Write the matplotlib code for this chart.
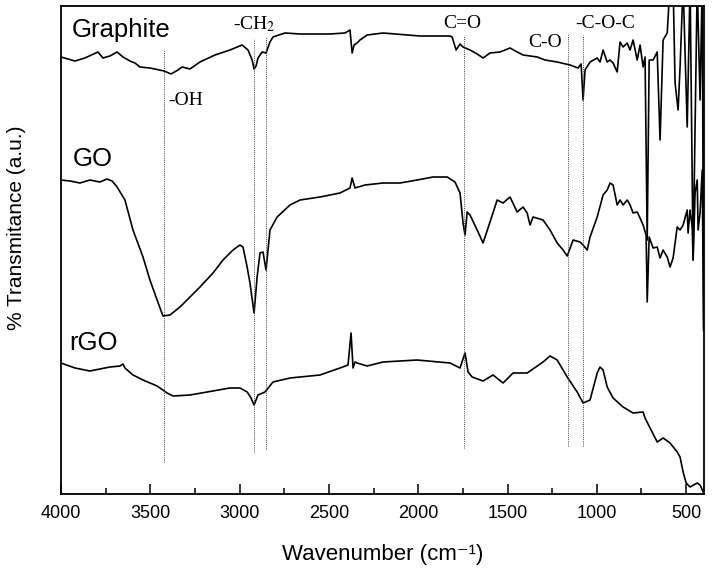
import matplotlib
matplotlib.use("Agg")
import matplotlib.pyplot as plt
from matplotlib.ticker import MultipleLocator

plt.rcParams['font.family'] = ['Liberation Sans', 'DejaVu Sans']
plt.rcParams['mathtext.fontset'] = 'custom'
plt.rcParams['mathtext.rm'] = 'Liberation Sans'
plt.rcParams['mathtext.it'] = 'Liberation Sans:italic'
plt.rcParams['mathtext.bf'] = 'Liberation Sans:bold'

# ---------------- data (wavenumber cm^-1, transmittance a.u.) ----------------
graphite_wn = [4000, 3922, 3866, 3793, 3765, 3726, 3686, 3653, 3614, 3586, 3558, 3502,
               3423, 3384, 3345, 3322, 3278, 3222, 3138, 3054, 2986, 2953, 2930, 2919,
               2908, 2897, 2874, 2852, 2830, 2813, 2746, 2662, 2494, 2410, 2382, 2370,
               2359, 2342, 2326, 2286, 2197, 1990, 1822, 1810, 1788, 1766, 1749, 1710,
               1670, 1637, 1598, 1542, 1486, 1446, 1413, 1334, 1290, 1222, 1150, 1105,
               1088, 1077, 1066, 1038, 998, 982, 965, 942, 926, 909, 886, 870, 853, 830,
               814, 797, 774, 758, 741, 730, 718, 707, 685, 662, 646, 629, 606, 590, 573,
               562, 545, 534, 517, 494, 478, 461, 438, 422, 410, 402]
graphite_t = [437, 433, 436, 442, 436, 438, 442, 437, 433, 431, 427, 426,
              423, 420, 424, 427, 425, 432, 439, 444, 449, 444, 434, 425,
              428, 436, 442, 441, 452, 457, 461, 460, 460, 461, 464, 441,
              449, 451, 454, 459, 461, 458, 458, 457, 444, 450, 447, 444,
              440, 436, 441, 442, 446, 442, 439, 437, 434, 432, 429, 426,
              430, 394, 424, 432, 436, 432, 444, 432, 434, 431, 422, 452, 447, 451,
              444, 454, 434, 449, 427, 437, 254, 434, 434, 442, 354, 454, 461, 510, 510,
              411, 384, 427, 510, 367, 510, 234, 510, 394, 510, 164]

go_wn = [4000, 3950, 3894, 3838, 3782, 3742, 3714, 3686, 3642, 3597, 3541, 3502,
         3462, 3429, 3390, 3334, 3278, 3222, 3149, 3093, 3037, 2998, 2981, 2958,
         2942, 2919, 2902, 2886, 2869, 2852, 2830, 2790, 2718, 2662, 2550, 2438,
         2382, 2370, 2354, 2298, 2197, 2102, 2006, 1917, 1838, 1794, 1766, 1749,
         1738, 1726, 1710, 1670, 1637, 1598, 1558, 1525, 1486, 1446, 1413, 1390,
         1374, 1357, 1301, 1262, 1222, 1189, 1166, 1133, 1094, 1077, 1054, 1038,
         998, 965, 942, 926, 909, 886, 870, 853, 830, 814, 797, 774, 758, 741, 724,
         718, 707, 685, 662, 646, 629, 606, 590, 573, 550, 534, 517, 494, 489, 478,
         466, 461, 450, 438, 433, 422, 410, 402]
go_t = [314, 313, 311, 314, 312, 315, 313, 307, 294, 264, 237, 214,
        194, 178, 179, 187, 197, 207, 221, 234, 244, 249, 247, 227,
        211, 181, 217, 241, 242, 224, 264, 277, 289, 294, 297, 301,
        306, 316, 306, 309, 311, 311, 314, 317, 317, 312, 301, 271,
        259, 282, 279, 264, 251, 272, 294, 291, 297, 282, 287, 281,
        269, 277, 274, 264, 251, 244, 238, 254, 252, 249, 244, 257,
        277, 299, 304, 311, 309, 289, 294, 289, 294, 289, 281, 282, 276, 269, 259,
        192, 257, 246, 247, 236, 244, 237, 227, 236, 267, 264, 269, 284, 261, 284,
        267, 234, 301, 314, 264, 281, 324, 164]

rgo_wn = [4000, 3922, 3838, 3782, 3726, 3670, 3653, 3642, 3597, 3541, 3462, 3406,
          3373, 3278, 3182, 3054, 2998, 2958, 2936, 2919, 2897, 2858, 2813, 2718,
          2550, 2438, 2393, 2376, 2365, 2354, 2342, 2286, 2197, 2006, 1822, 1766,
          1738, 1721, 1698, 1637, 1581, 1525, 1469, 1390, 1301, 1262, 1222, 1166,
          1110, 1077, 1038, 998, 982, 965, 942, 909, 853, 797, 741, 730, 702, 662,
          629, 590, 550, 534, 517, 500, 478, 438, 422, 402]
rgo_t = [131, 126, 123, 125, 127, 128, 130, 126, 119, 114, 108, 101,
         98, 99, 102, 106, 106, 102, 96, 89, 99, 102, 112, 116,
         119, 126, 129, 161, 126, 132, 131, 128, 132, 134, 131, 126,
         141, 122, 117, 113, 119, 111, 121, 121, 132, 138, 134, 117,
         102, 91, 94, 121, 127, 124, 107, 96, 87, 81, 82, 76, 66, 52,
         56, 51, 42, 37, 22, 11, 7, 11, 9, 1]

series_names = ["Graphite", "GO", "rGO"]
band_wn = [3423, 2921, 2854, 1741, 1159, 1075]
band_top = [445, 455, 457, 459, 461, 459]
band_bottom = [32, 42, 45, 46, 48, 48]
band_labels = ["-OH", "-CH$_2$", "C=O", "C-O", "-C-O-C"]
xtick_vals = [4000, 3500, 3000, 2500, 2000, 1500, 1000, 500]

# ---------------- figure ----------------
fig = plt.figure(figsize=(7.14, 5.77), dpi=100)
ax = fig.add_axes([61/714, 83/577, 643/714, 488/577])

for wn, t in [(graphite_wn, graphite_t), (go_wn, go_t), (rgo_wn, rgo_t)]:
    ax.plot(wn, t, color='black', lw=1.2, solid_joinstyle='round')

ax.vlines(band_wn, band_bottom, band_top, colors='#444444', linestyles=(0, (1, 1.2)), lw=0.7)

ax.set_xlim(4000, 400)
ax.set_ylim(0, 488)
ax.set_xticks(xtick_vals)
ax.xaxis.set_minor_locator(MultipleLocator(250))
ax.tick_params(axis='x', which='major', direction='in', length=7, width=1.1,
               labelsize=13, pad=8, top=False)
ax.tick_params(axis='x', which='minor', direction='in', length=4, width=1.1, top=False)
ax.set_yticks([])
for s in ax.spines.values():
    s.set_linewidth(1.3)

ax.set_xlabel("Wavenumber (cm\u207b\u00b9)", fontsize=16, labelpad=16)
ax.set_ylabel("% Transmitance (a.u.)", fontsize=15)
ax.yaxis.set_label_coords(-0.054, 0.545)

# series labels
ax.text(3938, 457, series_names[0], fontsize=18.5, va='baseline', ha='left')
ax.text(3933, 328, series_names[1], fontsize=18.5, va='baseline', ha='left')
ax.text(3955, 144, series_names[2], fontsize=18.5, va='baseline', ha='left')

# band labels (serif)
serif = ['Liberation Serif', 'DejaVu Serif']
ax.text(3401, 389, band_labels[0], fontsize=14, family=serif, va='baseline')
ax.text(3037, 465, band_labels[1], fontsize=14, family=serif, va='baseline',
        math_fontfamily='stix')
ax.text(1861, 466, band_labels[2], fontsize=14, family=serif, va='baseline')
ax.text(1385, 447, band_labels[3], fontsize=14, family=serif, va='baseline')
ax.text(1122, 466, band_labels[4], fontsize=14, family=serif, va='baseline')

fig.savefig("out.png", dpi=100)
